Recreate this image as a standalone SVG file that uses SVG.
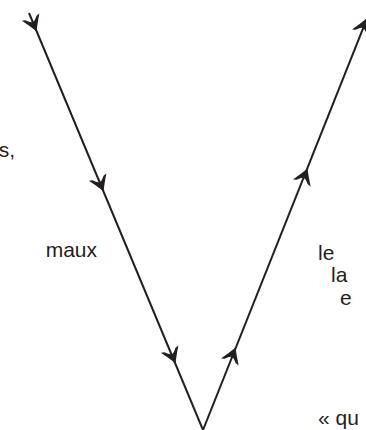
<svg xmlns="http://www.w3.org/2000/svg" width="366" height="430" viewBox="0 0 366 430">
  <style>
    .lbl { font-family: "Liberation Sans", Arial, sans-serif; font-size: 21px; fill: #231f20; }
    .leg { fill: none; stroke: #231f20; stroke-width: 2; stroke-linecap: butt; }
    .head { fill: #231f20; }
  </style>
  <defs>
    <!-- barbed arrowhead with flared wings, tip at origin, pointing along +x -->
    <path id="barb" class="head" d="M1.5,0 Q-5,-3.5 -14,-9.5 L-13,-6 Q-8.5,-2.2 -8.5,0 Q-8.5,2.2 -13,6 L-14,9.5 Q-5,3.5 1.5,0 Z"/>
  </defs>
  <rect width="366" height="430" fill="#ffffff"/>

  <g id="connectors">
    <!-- descending branch -->
    <line class="leg" x1="29" y1="13" x2="203" y2="430"/>
    <!-- ascending branch -->
    <line class="leg" x1="203" y1="430" x2="372" y2="6"/>
    <!-- arrowheads on the descending branch -->
    <use href="#barb" transform="translate(36,30) rotate(67.3)"/>
    <use href="#barb" transform="translate(103,190) rotate(67.3)"/>
    <use href="#barb" transform="translate(175,362) rotate(67.3)"/>
    <!-- arrowheads on the ascending branch -->
    <use href="#barb" transform="translate(235,349) rotate(-68.3)"/>
    <use href="#barb" transform="translate(307,170) rotate(-68.3)"/>
    <use href="#barb" transform="translate(366,20) rotate(-68.3)"/>
  </g>

  <g id="text-left">
    <text class="lbl" x="15" y="157" text-anchor="end">s,</text>
    <text class="lbl" x="97" y="257" text-anchor="end">maux</text>
  </g>
  <g id="text-right">
    <text class="lbl" x="318" y="260">le</text>
    <text class="lbl" x="331" y="282">la</text>
    <text class="lbl" x="340" y="305">e</text>
    <text class="lbl" x="318" y="425">« qu</text>
  </g>
</svg>
